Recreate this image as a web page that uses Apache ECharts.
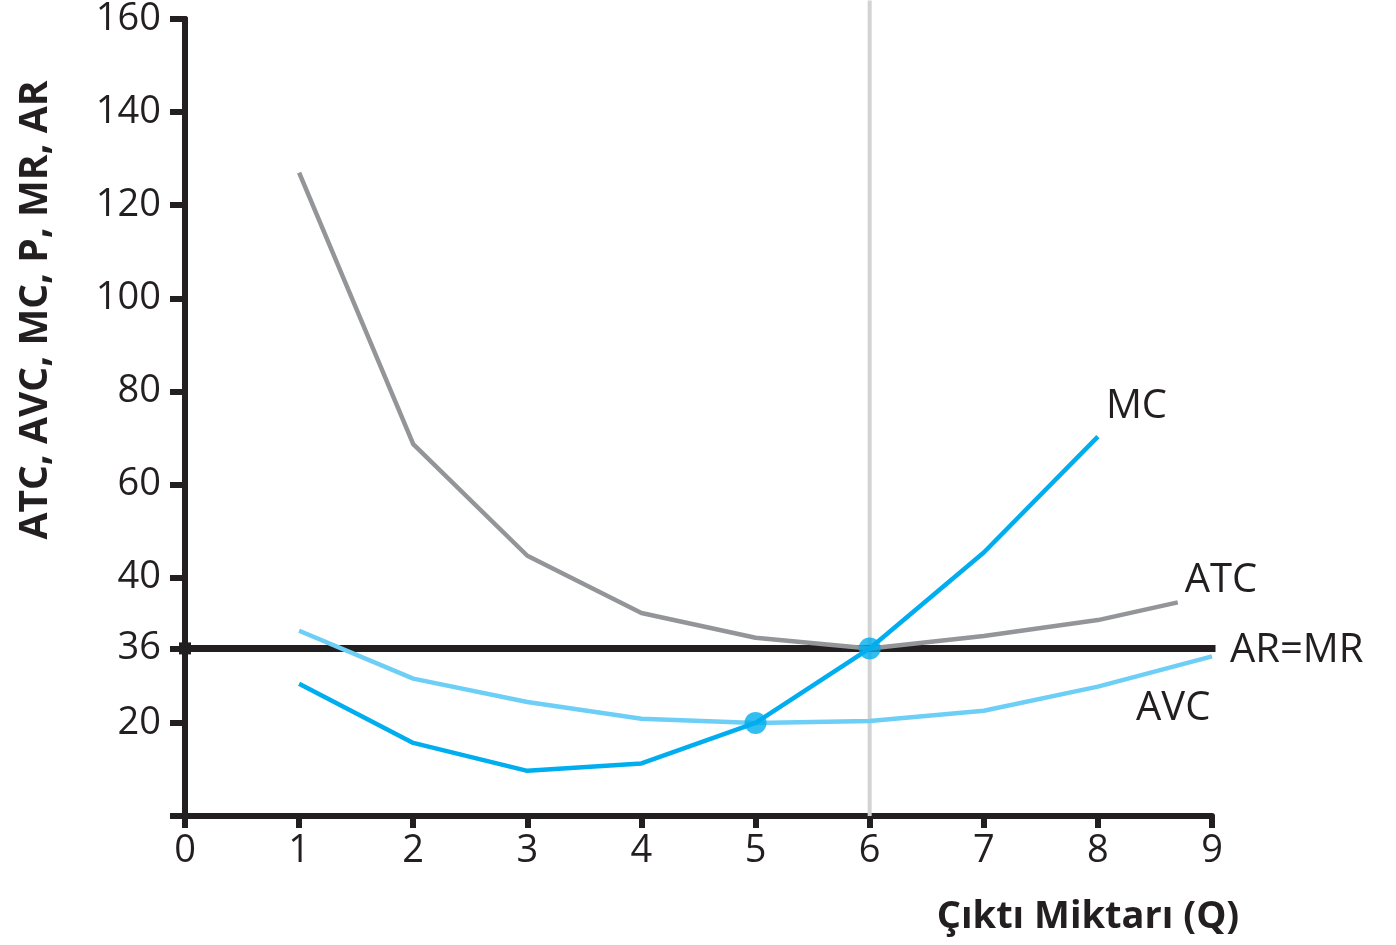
<!DOCTYPE html>
<html>
<head>
<meta charset="utf-8">
<script src="https://cdn.jsdelivr.net/npm/echarts@6/dist/echarts.min.js"></script>
<style>
html,body{margin:0;padding:0;background:#fff;}
#chart{width:1396px;height:945px;}
</style>
</head>
<body>
<div id="chart"></div>
<script>
// ---- data ----
const atcQ = [1, 2, 3, 4, 5, 6, 7, 8, 8.7];
const atc  = [127, 68.7, 44.7, 38.0, 36.6, 36, 36.7, 37.6, 38.6];
const avcQ = [1, 2, 3, 4, 5, 6, 7, 8, 9];
const avc  = [37.0, 29.5, 24.5, 20.9, 20, 20.4, 22.6, 27.8, 34.3];
const mcQ  = [1, 2, 3, 4, 5, 6, 7, 8];
const mc   = [28.4, 15.7, 9.7, 11.3, 20, 36, 45.4, 70.3];
const priceQ = [0, 9];
const price  = 36;              // AR = MR
const optimumQ = 6;
const guideExtent = [0, 164];   // vertical guide at Q = 6
const markedQ = [5, 6];
const markedV = [20, 36];
const xTicks = [0, 1, 2, 3, 4, 5, 6, 7, 8, 9];
const yTickLabels = [20, 36, 40, 60, 80, 100, 120, 140, 160];
const yTicks = [0, 20, 36, 40, 60, 80, 100, 120, 140, 160];

const pair = (xs, ys) => xs.map((x, i) => [x, ys[i]]);
const dark = '#231f20';
const font = '"Open Sans", "DejaVu Sans", sans-serif';

const chart = echarts.init(document.getElementById('chart'), null, {renderer: 'canvas'});
const option = {
  backgroundColor: '#ffffff',
  animation: false,
  grid: {left: 185, right: 184, top: 15, bottom: 129, containLabel: false},
  xAxis: {
    type: 'value', min: 0, max: 9, interval: 1,
    axisLine: {show: true, lineStyle: {color: dark, width: 6}},
    axisTick: {show: true, length: 12, lineStyle: {color: dark, width: 6}},
    axisLabel: {show: true, color: dark, fontSize: 38, fontFamily: font, margin: 16,
      formatter: v => xTicks.includes(v) ? String(v) : ''},
    splitLine: {show: false}
  },
  yAxis: [
    {
      type: 'value', min: 0, max: 160,
      breaks: [{start: 36, end: 40, gap: 15.2}],
      breakArea: {show: false},
      axisLine: {show: true, lineStyle: {color: dark, width: 6}},
      axisTick: {show: true, length: 15, customValues: yTicks, lineStyle: {color: dark, width: 6}},
      axisLabel: {show: true, color: dark, fontSize: 38, fontFamily: font, margin: 24,
        customValues: yTickLabels},
      splitLine: {show: false}
    },
    {
      // plain continuous copy of the axis line (the break leaves a hole in it)
      type: 'value', min: 0, max: 160, position: 'left', offset: 0,
      axisLine: {show: true, onZero: false, lineStyle: {color: dark, width: 6}},
      axisTick: {show: false}, axisLabel: {show: false}, splitLine: {show: false}
    }
  ],
  graphic: [
    {type: 'text', x: 36, y: 310, rotation: Math.PI / 2,
     style: {text: 'ATC, AVC, MC, P, MR, AR', font: 'bold 39px ' + font, fill: dark,
             textAlign: 'center', textVerticalAlign: 'middle'}},
    {type: 'text', x: 1088, y: 917,
     style: {text: 'Çıktı Miktarı (Q)', font: 'bold 38px ' + font, fill: dark,
             textAlign: 'center', textVerticalAlign: 'middle'}}
  ],
  series: [
    {
      name: 'guide', type: 'line', clip: false, z: 1,
      data: guideExtent.map(v => [optimumQ, v]),
      symbol: 'none', lineStyle: {color: '#d1d3d4', width: 4}, silent: true
    },
    {
      name: 'AR=MR', type: 'line', z: 2,
      data: priceQ.map((q, i) => ({value: [q, price], symbol: i === 0 ? 'rect' : 'none', symbolSize: 12})),
      showSymbol: true, itemStyle: {color: dark},
      lineStyle: {color: dark, width: 7, cap: 'square'},
      endLabel: {show: true, formatter: 'AR=MR', color: dark, fontSize: 40, fontFamily: font,
                 distance: 0, offset: [18, 2]}
    },
    {
      name: 'ATC', type: 'line', z: 3,
      data: pair(atcQ, atc), symbol: 'none', smooth: false,
      lineStyle: {color: '#939598', width: 4.5},
      endLabel: {show: true, formatter: 'ATC', color: dark, fontSize: 40, fontFamily: font,
                 distance: 0, offset: [7, -22]}
    },
    {
      name: 'AVC', type: 'line', z: 4,
      data: pair(avcQ, avc), symbol: 'none',
      lineStyle: {color: '#6dcff6', width: 4.5},
      endLabel: {show: true, formatter: 'AVC', color: dark, fontSize: 40, fontFamily: font,
                 distance: 0, offset: [-76, 52]}
    },
    {
      name: 'MC', type: 'line', z: 5,
      data: pair(mcQ, mc), symbol: 'none',
      lineStyle: {color: '#00aeef', width: 4.5},
      endLabel: {show: true, formatter: 'MC', color: dark, fontSize: 40, fontFamily: font,
                 distance: 0, offset: [8, -30]}
    },
    {
      name: 'points', type: 'scatter', z: 6,
      data: pair(markedQ, markedV), symbol: 'circle', symbolSize: 22,
      itemStyle: {color: '#00aeef'}
    }
  ]
};
chart.setOption(option);
</script>
</body>
</html>
